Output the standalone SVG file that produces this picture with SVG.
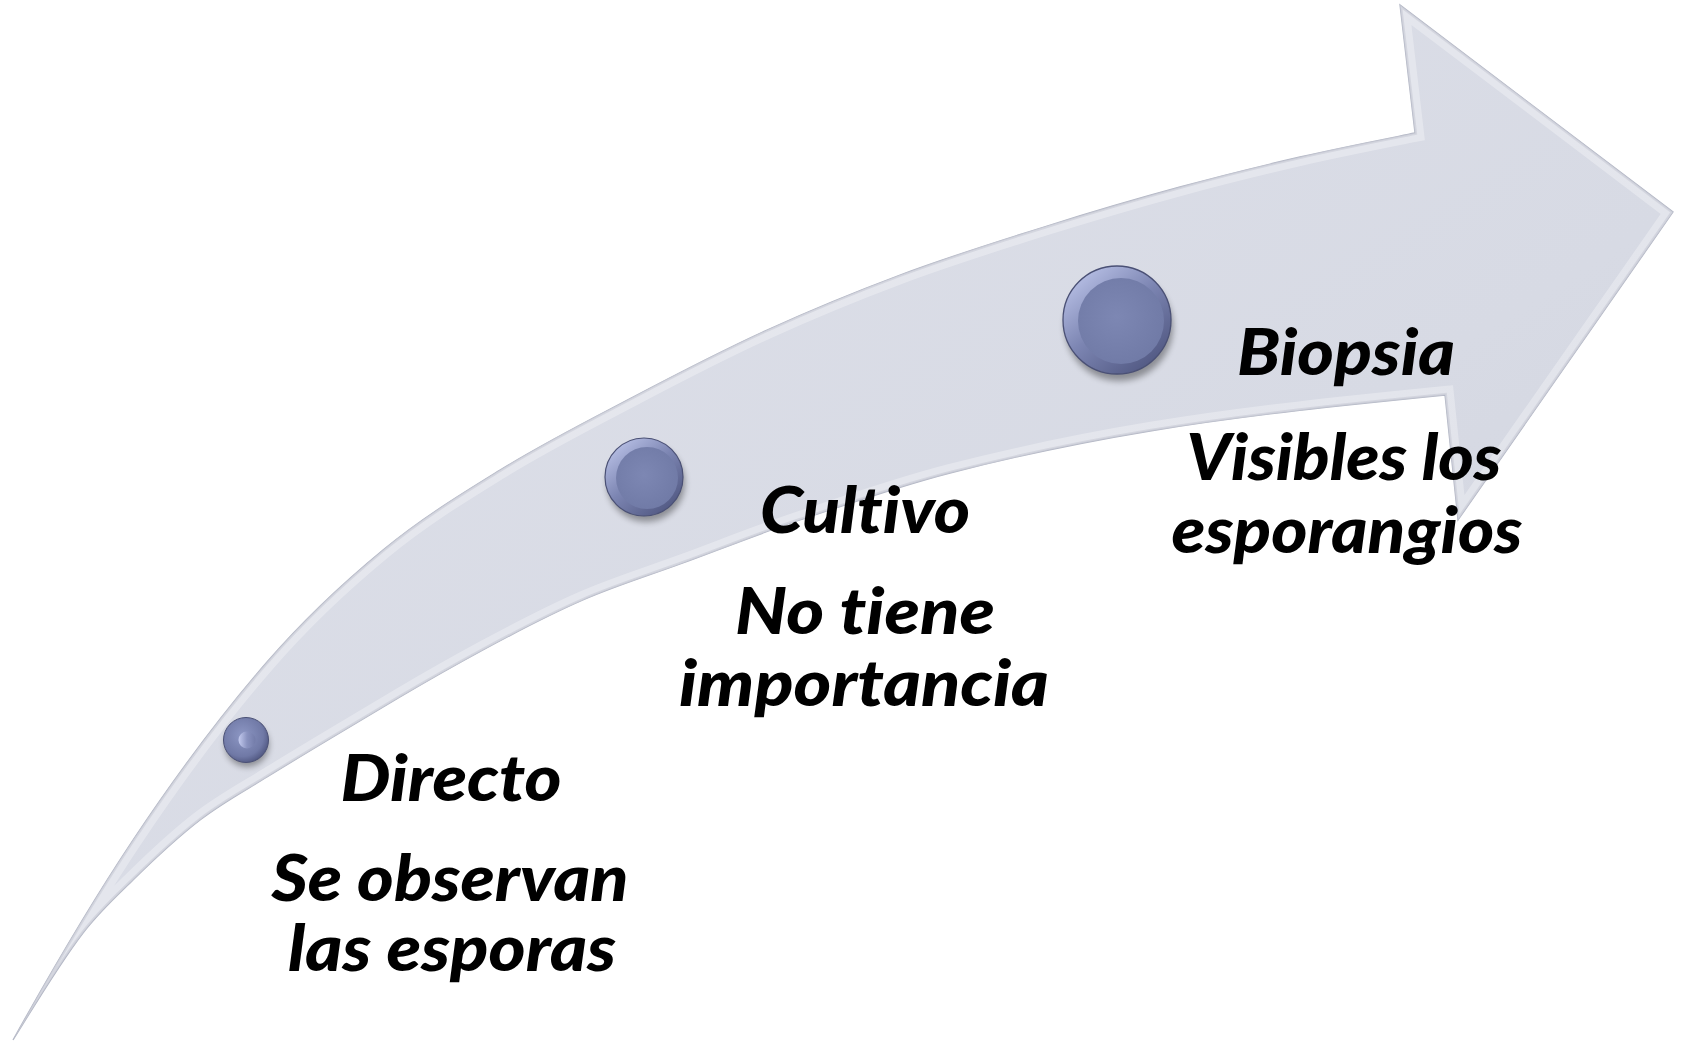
<svg xmlns="http://www.w3.org/2000/svg" width="1685" height="1042" viewBox="0 0 1685 1042">
<defs>
<style>
.lbl{font-family:"Lato","Liberation Sans",sans-serif;font-weight:900;font-style:italic;font-size:64px;fill:#000;text-anchor:middle;font-variant-ligatures:none;font-feature-settings:"liga" 0,"clig" 0,"dlig" 0}
</style>
<linearGradient id="arrowFill" x1="0" y1="0" x2="1" y2="1">
<stop offset="0" stop-color="#dfe1ea"/>
<stop offset="0.6" stop-color="#d7dae4"/>
<stop offset="1" stop-color="#cfd2dc"/>
</linearGradient>
<linearGradient id="rim" x1="0.15" y1="0.1" x2="0.85" y2="0.95">
<stop offset="0" stop-color="#b4bce2"/>
<stop offset="0.45" stop-color="#7c85b2"/>
<stop offset="1" stop-color="#4f5680"/>
</linearGradient>
<radialGradient id="face" cx="0.45" cy="0.45" r="0.6">
<stop offset="0" stop-color="#7d87b3"/>
<stop offset="1" stop-color="#707aa6"/>
</radialGradient>
<radialGradient id="pearl" cx="0.42" cy="0.4" r="0.62">
<stop offset="0" stop-color="#8d97c4"/>
<stop offset="0.75" stop-color="#7079a6"/>
<stop offset="1" stop-color="#535a84"/>
</radialGradient>
<linearGradient id="spec" x1="0" y1="0.5" x2="1" y2="0.5">
<stop offset="0" stop-color="#c4cbef"/>
<stop offset="0.5" stop-color="#8a93c0"/>
<stop offset="1" stop-color="#737ca9"/>
</linearGradient>
<filter id="blur" x="-50%" y="-50%" width="200%" height="200%">
<feGaussianBlur stdDeviation="3"/>
</filter>
<path id="arrowPath" d="M 13,1040 C 53,968 93,900 133,840 C 177.7,773 222.3,713.4 267,662 C 305.7,617.5 344.3,581.9 383,550 C 422,517.8 461,494.1 500,470 C 544.3,442.7 588.7,420.3 633,397 C 677.7,373.5 722.3,350.4 767,330 C 811.3,309.8 855.7,291.6 900,275 C 949,256.7 998,241.3 1047,226 C 1091.3,212.1 1135.7,199 1180,187 C 1220,176.1 1260,166.2 1300,157 C 1338.3,148.2 1376.7,140.7 1415,133 L 1400,5 L 1673,212 L 1458,520 L 1445,395 C 1346.7,404.8 1248.3,414.8 1150,431 C 1083.3,442 1016.7,456 950,473 C 900,485.75 850,503.3 800,520 C 761,533 722,548.6 683,563 C 649.7,575.3 616.3,585.5 583,600 C 549.7,614.5 516.3,632 483,650 C 455.3,665 427.7,680.7 400,697 C 377.7,710.2 355.3,723.6 333,737 C 311,750.2 289,763.4 267,777 C 244.7,790.8 222.3,802.8 200,820 C 177.7,837.2 155.3,858.1 133,880 C 116.3,896.3 99.7,911.3 83,933 C 59.7,963.3 36.3,1002.7 13,1040 Z"/>
<clipPath id="arrowClip"><use href="#arrowPath"/></clipPath>
</defs>
<rect width="1685" height="1042" fill="#ffffff"/>
<g id="connectors">
<g id="arrow">
<use href="#arrowPath" fill="url(#arrowFill)" stroke="#b3b7c5" stroke-width="1.3" stroke-linejoin="miter"/>
<g clip-path="url(#arrowClip)">
<use href="#arrowPath" fill="none" stroke="#ffffff" stroke-opacity="0.3" stroke-width="18"/>
<use href="#arrowPath" fill="none" stroke="#c3c6d2" stroke-opacity="0.5" stroke-width="4"/>
</g>
</g>
</g>
<g id="dot-directo">
<circle cx="247" cy="745" r="22" fill="#000" opacity="0.35" filter="url(#blur)"/>
<circle cx="246" cy="740" r="22.5" fill="url(#pearl)" stroke="#4a5075" stroke-width="1"/>
<circle cx="247" cy="740" r="8.5" fill="url(#spec)"/>
</g>
<g id="dot-cultivo">
<circle cx="646" cy="483" r="39" fill="#000" opacity="0.35" filter="url(#blur)"/>
<circle cx="644" cy="477" r="39" fill="url(#rim)" stroke="#4a5075" stroke-width="1.2"/>
<circle cx="647" cy="478" r="31" fill="url(#face)"/>
</g>
<g id="dot-biopsia">
<circle cx="1119" cy="327" r="54" fill="#000" opacity="0.35" filter="url(#blur)"/>
<circle cx="1117" cy="320" r="54" fill="url(#rim)" stroke="#4a5075" stroke-width="1.3"/>
<circle cx="1121" cy="321" r="43" fill="url(#face)"/>
</g>
<g id="node-directo">
<text class="lbl" x="451" y="801" textLength="221" lengthAdjust="spacingAndGlyphs">Directo</text>
<text class="lbl" x="450" y="901" textLength="357" lengthAdjust="spacingAndGlyphs">Se observan</text>
<text class="lbl" x="452" y="971" textLength="328" lengthAdjust="spacingAndGlyphs">las esporas</text>
</g>
<g id="node-cultivo">
<text class="lbl" x="865" y="533" textLength="210" lengthAdjust="spacingAndGlyphs">Cultivo</text>
<text class="lbl" x="865" y="634" textLength="260" lengthAdjust="spacingAndGlyphs">No tiene</text>
<text class="lbl" x="864" y="706" textLength="370" lengthAdjust="spacingAndGlyphs">importancia</text>
</g>
<g id="node-biopsia">
<text class="lbl" x="1346" y="375" textLength="218" lengthAdjust="spacingAndGlyphs">Biopsia</text>
<text class="lbl" x="1344" y="480" textLength="315" lengthAdjust="spacingAndGlyphs">Visibles los</text>
<text class="lbl" x="1347" y="553" textLength="351" lengthAdjust="spacingAndGlyphs">esporangios</text>
</g>
</svg>
